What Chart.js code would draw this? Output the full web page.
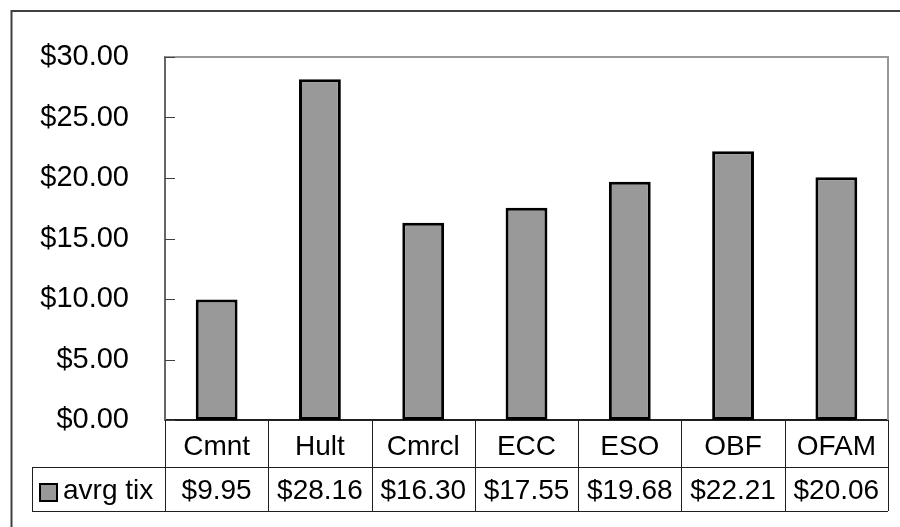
<!DOCTYPE html>
<html>
<head>
<meta charset="utf-8">
<style>
  html, body { margin: 0; padding: 0; background: #ffffff; }
  #wrap { width: 900px; height: 527px; position: relative; }
</style>
<script src="https://cdn.jsdelivr.net/npm/chart.js@4.4.1/dist/chart.umd.min.js"></script>
</head>
<body>
<div id="wrap"><canvas id="c" width="900" height="527"></canvas></div>
<script>
const categories = ["Cmnt", "Hult", "Cmrcl", "ECC", "ESO", "OBF", "OFAM"];
const avrgTix = [9.95, 28.16, 16.30, 17.55, 19.68, 22.21, 20.06];
const seriesName = "avrg tix";
const yMin = 0, yMax = 30, yStep = 5;

const FONT = "'Liberation Sans', Arial, sans-serif";
const money = v => "$" + Number(v).toFixed(2);

const tablePlugin = {
  id: 'excelTable',
  beforeDraw(chart) {
    const ctx = chart.ctx;
    ctx.save();
    ctx.fillStyle = '#ffffff';
    ctx.fillRect(0, 0, chart.width, chart.height);
    ctx.strokeStyle = '#404040';
    ctx.lineWidth = 2;
    ctx.beginPath();
    ctx.moveTo(11.5, chart.height + 5);
    ctx.lineTo(11.5, 11);
    ctx.lineTo(chart.width + 5, 11);
    ctx.stroke();
    ctx.restore();
  },
  afterDraw(chart) {
    const ctx = chart.ctx;
    const a = chart.chartArea;
    const xs = chart.scales.x, ys = chart.scales.y;
    const n = categories.length;
    const colW = (a.right - a.left) / n;
    const row1 = a.bottom, row2 = 467, row3 = 511;
    const legL = 32;
    ctx.save();
    ctx.strokeStyle = '#999999';
    ctx.lineWidth = 2;
    ctx.beginPath();
    ctx.moveTo(a.left, a.top);
    ctx.lineTo(a.right, a.top);
    ctx.lineTo(a.right, a.bottom);
    ctx.stroke();
    ctx.strokeStyle = '#404040';
    ctx.lineWidth = 1;
    ys.ticks.forEach(t => {
      const y = Math.round(ys.getPixelForValue(t.value)) + 0.5;
      ctx.beginPath();
      ctx.moveTo(a.left, y);
      ctx.lineTo(a.left + 10, y);
      ctx.stroke();
    });
    ctx.strokeStyle = '#202020';
    ctx.lineWidth = 1;
    ctx.beginPath();
    ctx.moveTo(legL, row2 + 0.5); ctx.lineTo(a.right, row2 + 0.5);
    ctx.moveTo(legL, row3 + 0.5); ctx.lineTo(a.right, row3 + 0.5);
    ctx.moveTo(legL + 0.5, row2); ctx.lineTo(legL + 0.5, row3);
    for (let i = 0; i <= n; i++) {
      const x = Math.round(a.left + i * colW) + 0.5;
      ctx.moveTo(x, row1); ctx.lineTo(x, row3);
    }
    ctx.stroke();
    ctx.font = '28px ' + FONT;
    ctx.fillStyle = '#000000';
    ctx.textAlign = 'center';
    ctx.textBaseline = 'middle';
    const ds = chart.data.datasets[0];
    ds.data.forEach((v, i) => {
      ctx.fillText(money(v), xs.getPixelForValue(i), (row2 + row3) / 2 + 2);
    });
    ctx.fillStyle = ds.backgroundColor;
    ctx.fillRect(40, 484, 17, 17);
    ctx.strokeStyle = '#000000';
    ctx.lineWidth = 2;
    ctx.strokeRect(40, 484, 17, 17);
    ctx.fillStyle = '#000000';
    ctx.textAlign = 'left';
    ctx.fillText(ds.label, 63, (row2 + row3) / 2 + 2);
    ctx.restore();
  }
};

new Chart(document.getElementById('c'), {
  type: 'bar',
  data: {
    labels: categories,
    datasets: [{
      label: seriesName,
      data: avrgTix,
      backgroundColor: '#999999',
      borderColor: '#000000',
      borderWidth: 3,
      borderSkipped: false,
      barPercentage: 0.405,
      categoryPercentage: 1.0
    }]
  },
  options: {
    responsive: false,
    animation: false,
    devicePixelRatio: 1,
    layout: { padding: { top: 57, right: 12, left: 0, bottom: 0 } },
    plugins: { legend: { display: false }, tooltip: { enabled: false } },
    scales: {
      x: {
        grid: { display: false, drawTicks: false },
        border: { display: true, color: '#202020', width: 2 },
        ticks: { color: '#000000', font: { family: FONT, size: 28 }, padding: 10, maxRotation: 0, autoSkip: false },
        afterFit(s) { s.height = 107; }
      },
      y: {
        min: yMin, max: yMax,
        grid: { display: false, drawTicks: false },
        border: { display: true, color: '#666666', width: 2 },
        ticks: { stepSize: yStep, color: '#000000', font: { family: FONT, size: 29 }, padding: 36, callback: v => money(v) },
        afterFit(s) { s.width = 165; }
      }
    }
  },
  plugins: [tablePlugin]
});
</script>
</body>
</html>
